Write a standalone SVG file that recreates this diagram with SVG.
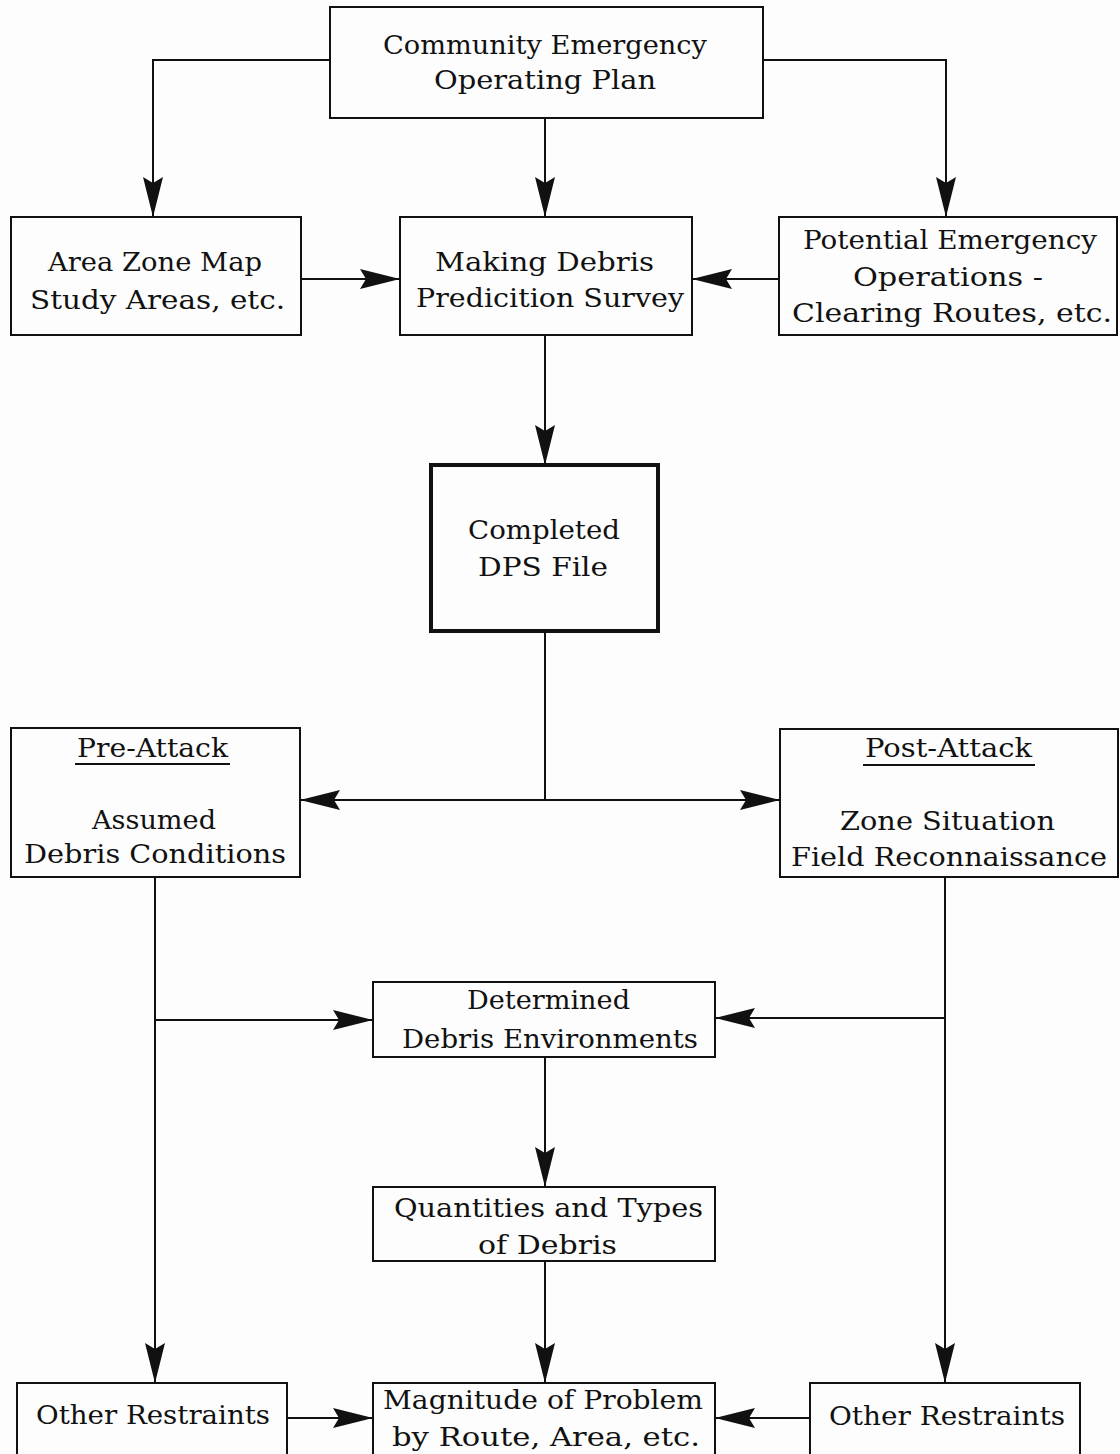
<svg xmlns="http://www.w3.org/2000/svg" width="1120" height="1454" viewBox="0 0 1120 1454">
  <style>
    .box { fill: none; stroke: #111; stroke-width: 2; }
    .thick { fill: none; stroke: #111; stroke-width: 4; }
    .lbl { font-family: "DejaVu Serif", "Liberation Serif", serif; font-size: 26px; fill: #111; text-anchor: start; }
    .wire { fill: none; stroke: #111; stroke-width: 2; }
    .uline { stroke: #111; stroke-width: 2; }
  </style>
  <defs>
    <marker id="arrow" markerUnits="userSpaceOnUse" markerWidth="42" markerHeight="20" refX="40" refY="10" orient="auto">
      <path d="M0,0 L40,10 L0,20 L6,10 Z" fill="#111"/>
    </marker>
  </defs>
  <rect width="1120" height="1454" fill="#fdfdfd"/>

  <!-- connectors -->
  <g id="connectors">
    <polyline class="wire" points="330,60 153,60 153,217" marker-end="url(#arrow)"/>
    <line class="wire" x1="545" y1="118" x2="545" y2="217" marker-end="url(#arrow)"/>
    <polyline class="wire" points="763,60 946,60 946,217" marker-end="url(#arrow)"/>
    <line class="wire" x1="301" y1="279" x2="400" y2="279" marker-end="url(#arrow)"/>
    <line class="wire" x1="779" y1="279" x2="692" y2="279" marker-end="url(#arrow)"/>
    <line class="wire" x1="545" y1="335" x2="545" y2="465" marker-end="url(#arrow)"/>
    <line class="wire" x1="545" y1="632" x2="545" y2="800"/>
    <line class="wire" x1="545" y1="800" x2="300" y2="800" marker-end="url(#arrow)"/>
    <line class="wire" x1="545" y1="800" x2="780" y2="800" marker-end="url(#arrow)"/>
    <line class="wire" x1="155" y1="877" x2="155" y2="1383" marker-end="url(#arrow)"/>
    <line class="wire" x1="155" y1="1020" x2="373" y2="1020" marker-end="url(#arrow)"/>
    <line class="wire" x1="945" y1="877" x2="945" y2="1383" marker-end="url(#arrow)"/>
    <line class="wire" x1="945" y1="1018" x2="715" y2="1018" marker-end="url(#arrow)"/>
    <line class="wire" x1="545" y1="1057" x2="545" y2="1187" marker-end="url(#arrow)"/>
    <line class="wire" x1="545" y1="1261" x2="545" y2="1383" marker-end="url(#arrow)"/>
    <line class="wire" x1="287" y1="1418" x2="373" y2="1418" marker-end="url(#arrow)"/>
    <line class="wire" x1="810" y1="1418" x2="715" y2="1418" marker-end="url(#arrow)"/>
  </g>

  <!-- nodes -->
  <g id="n-plan">
    <rect class="box" x="330" y="7" width="433" height="111"/>
    <text class="lbl" x="383" y="54" textLength="324" lengthAdjust="spacingAndGlyphs">Community Emergency</text>
    <text class="lbl" x="434" y="89" textLength="222" lengthAdjust="spacingAndGlyphs">Operating Plan</text>
  </g>
  <g id="n-zone">
    <rect class="box" x="11" y="217" width="290" height="118"/>
    <text class="lbl" x="48" y="271" textLength="214" lengthAdjust="spacingAndGlyphs">Area Zone Map</text>
    <text class="lbl" x="30" y="309" textLength="255" lengthAdjust="spacingAndGlyphs">Study Areas, etc.</text>
  </g>
  <g id="n-survey">
    <rect class="box" x="400" y="217" width="292" height="118"/>
    <text class="lbl" x="435" y="271" textLength="219" lengthAdjust="spacingAndGlyphs">Making Debris</text>
    <text class="lbl" x="416" y="307" textLength="268" lengthAdjust="spacingAndGlyphs">Predicition Survey</text>
  </g>
  <g id="n-operations">
    <rect class="box" x="779" y="217" width="338" height="118"/>
    <text class="lbl" x="803" y="249" textLength="294" lengthAdjust="spacingAndGlyphs">Potential Emergency</text>
    <text class="lbl" x="853" y="286" textLength="190" lengthAdjust="spacingAndGlyphs">Operations -</text>
    <text class="lbl" x="792" y="322" textLength="320" lengthAdjust="spacingAndGlyphs">Clearing Routes, etc.</text>
  </g>
  <g id="n-dps">
    <rect class="thick" x="431" y="465" width="227" height="166"/>
    <text class="lbl" x="468" y="539" textLength="152" lengthAdjust="spacingAndGlyphs">Completed</text>
    <text class="lbl" x="478" y="576" textLength="130" lengthAdjust="spacingAndGlyphs">DPS File</text>
  </g>
  <g id="n-preattack">
    <rect class="box" x="11" y="728" width="289" height="149"/>
    <text class="lbl" x="77" y="757" textLength="151" lengthAdjust="spacingAndGlyphs">Pre-Attack</text>
    <line class="uline" x1="75" y1="764" x2="230" y2="764"/>
    <text class="lbl" x="92" y="829" textLength="124" lengthAdjust="spacingAndGlyphs">Assumed</text>
    <text class="lbl" x="24" y="863" textLength="262" lengthAdjust="spacingAndGlyphs">Debris Conditions</text>
  </g>
  <g id="n-postattack">
    <rect class="box" x="780" y="729" width="338" height="148"/>
    <text class="lbl" x="865" y="757" textLength="167" lengthAdjust="spacingAndGlyphs">Post-Attack</text>
    <line class="uline" x1="863" y1="765" x2="1035" y2="765"/>
    <text class="lbl" x="840" y="830" textLength="215" lengthAdjust="spacingAndGlyphs">Zone Situation</text>
    <text class="lbl" x="791" y="866" textLength="316" lengthAdjust="spacingAndGlyphs">Field Reconnaissance</text>
  </g>
  <g id="n-environments">
    <rect class="box" x="373" y="982" width="342" height="75"/>
    <text class="lbl" x="467" y="1009" textLength="163" lengthAdjust="spacingAndGlyphs">Determined</text>
    <text class="lbl" x="402" y="1048" textLength="296" lengthAdjust="spacingAndGlyphs">Debris Environments</text>
  </g>
  <g id="n-quantities">
    <rect class="box" x="373" y="1187" width="342" height="74"/>
    <text class="lbl" x="394" y="1217" textLength="309" lengthAdjust="spacingAndGlyphs">Quantities and Types</text>
    <text class="lbl" x="478" y="1254" textLength="139" lengthAdjust="spacingAndGlyphs">of Debris</text>
  </g>
  <g id="n-restraints-left">
    <rect class="box" x="17" y="1383" width="270" height="80"/>
    <text class="lbl" x="36" y="1424" textLength="234" lengthAdjust="spacingAndGlyphs">Other Restraints</text>
  </g>
  <g id="n-magnitude">
    <rect class="box" x="373" y="1383" width="342" height="80"/>
    <text class="lbl" x="383" y="1409" textLength="320" lengthAdjust="spacingAndGlyphs">Magnitude of Problem</text>
    <text class="lbl" x="392" y="1446" textLength="308" lengthAdjust="spacingAndGlyphs">by Route, Area, etc.</text>
  </g>
  <g id="n-restraints-right">
    <rect class="box" x="810" y="1383" width="270" height="80"/>
    <text class="lbl" x="829" y="1425" textLength="236" lengthAdjust="spacingAndGlyphs">Other Restraints</text>
  </g>
</svg>
